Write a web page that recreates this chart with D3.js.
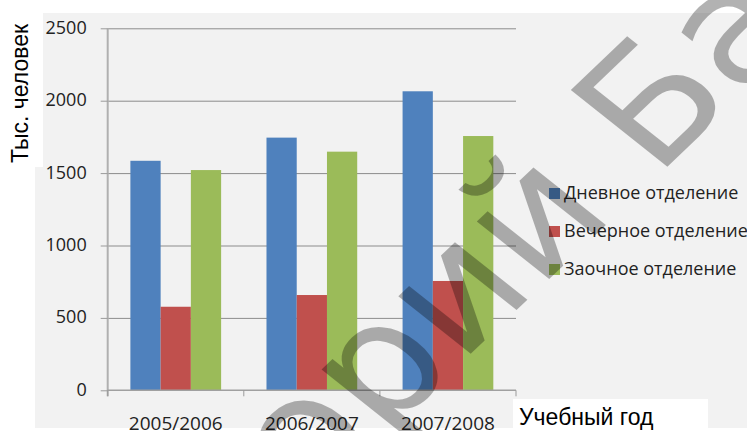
<!DOCTYPE html>
<html><head><meta charset="utf-8">
<script src="https://cdn.jsdelivr.net/npm/d3@7"></script>
<style>html,body{margin:0;padding:0;background:#fff;overflow:hidden}</style>
</head><body>
<svg id="c" width="747" height="431"></svg>
<script>
const categories = ["2005/2006", "2006/2007", "2007/2008"];
const seriesNames = ["Дневное отделение", "Вечерное отделение", "Заочное отделение"];
const dayValues = [1585, 1745, 2065];
const eveningValues = [577, 658, 755];
const extramuralValues = [1521, 1648, 1756];
const yTicks = [0, 500, 1000, 1500, 2000, 2500];
const colors = ["#4f81bd", "#c0504d", "#9bbb59"];
const yTitle = "Тыс. человек";
const xTitle = "Учебный год";
const watermarkBefore = "Репозиторий";
const watermarkAfter = "БарГУ";

const series = [dayValues, eveningValues, extramuralValues];
const svg = d3.select("#c");
const W = 747, H = 431;

// backgrounds
svg.append("rect").attr("x",0).attr("y",0).attr("width",W).attr("height",H).attr("fill","#fff");
svg.append("rect").attr("x",35).attr("y",13).attr("width",W-35).attr("height",415).attr("fill","#f2f2f2");
svg.append("rect").attr("x",0).attr("y",0).attr("width",43).attr("height",167).attr("fill","#fff");
svg.append("rect").attr("x",513).attr("y",399).attr("width",195).attr("height",32).attr("fill","#fff");

const plot = {left:107.7, right:516, top:28.3, bottom:390.3};
const y = d3.scaleLinear().domain([0,2500]).range([plot.bottom, plot.top]);
const x0 = d3.scaleBand().domain(categories).range([plot.left, plot.right]).padding(0);
const bw = x0.bandwidth();
const gap = bw * 1.5 / 4.5;
const x1 = d3.scaleBand().domain(d3.range(3)).range([gap/2, bw - gap/2]).padding(0);

// gridlines
const grid = d3.axisLeft(y).tickValues(yTicks.filter(v=>v>0)).tickSize(-(plot.right-plot.left)).tickFormat("");
svg.append("g").attr("transform",`translate(${plot.left},0)`).call(grid)
  .call(g=>g.select(".domain").remove())
  .call(g=>g.selectAll("line").attr("stroke","#8c8c8c").attr("stroke-width",1));

// bars
categories.forEach((c,i)=>{
  const g = svg.append("g").attr("transform",`translate(${x0(c)},0)`);
  series.forEach((s,k)=>{
    g.append("rect").attr("x",x1(k)).attr("width",x1.bandwidth())
     .attr("y",y(s[i])).attr("height",y(0)-y(s[i])).attr("fill",colors[k]);
  });
});

// y axis
const yAxis = d3.axisLeft(y).tickValues(yTicks).tickFormat(d3.format("d")).tickSize(7).tickPadding(14);
svg.append("g").attr("transform",`translate(${plot.left},0)`).call(yAxis)
  .call(g=>g.select(".domain").attr("d",`M0,${plot.top}V${plot.bottom+6}`).attr("stroke","#b0b0b0").attr("stroke-width",2))
  .call(g=>g.selectAll(".tick line").attr("stroke","#9a9a9a"))
  .call(g=>g.selectAll("text").attr("font-family","'Open Sans'").attr("font-size",18).attr("fill","#222").attr("dy","0.28em"));

// x axis
const xAxis = d3.axisBottom(x0).tickSize(0).tickFormat(d=>d);
const xg = svg.append("g").attr("transform",`translate(0,${plot.bottom})`).call(xAxis);
xg.select(".domain").attr("d",`M${plot.left},0H${plot.right}`).attr("stroke","#a0a0a0").attr("stroke-width",1.5);
xg.selectAll("text").attr("font-family","'Open Sans'").attr("font-size",19).attr("fill","#222").attr("dy",0).attr("y",39.5);
const bounds = categories.map(c=>x0(c)).concat([x0(categories[categories.length-1])+bw]);
xg.selectAll("line.bt").data(bounds).enter().append("line").attr("class","bt")
  .attr("x1",d=>d).attr("x2",d=>d).attr("y1",0).attr("y2",6).attr("stroke","#9a9a9a");

// legend
const lg = svg.append("g");
seriesNames.forEach((n,k)=>{
  const yy = 199 + k*38;
  lg.append("rect").attr("x",549).attr("y",yy-11).attr("width",11).attr("height",11).attr("fill",colors[k]);
  lg.append("text").attr("x",564).attr("y",yy).attr("font-family","'Open Sans'").attr("font-size",18).attr("fill","#222").text(n);
});

// titles
svg.append("text").attr("transform","translate(28,163) rotate(-90)").attr("font-family","'Liberation Sans', Arial").attr("font-size",23).attr("fill","#000").text(yTitle);
svg.append("text").attr("x",519).attr("y",425).attr("font-family","'Liberation Sans', Arial").attr("font-size",23).attr("fill","#000").text(xTitle);

// watermark
const wm = svg.append("g").attr("transform","translate(655.4,178) scale(1.15,1) rotate(-47.6)")
  .attr("font-family","'DejaVu Sans'").attr("font-size",156)
  .attr("fill","#000").attr("fill-opacity",0.3);
wm.append("text").attr("x",-49.6).attr("y",0).attr("text-anchor","end").text(watermarkBefore);
wm.append("text").attr("x",0).attr("y",0).text(watermarkAfter);
</script>
</body></html>
